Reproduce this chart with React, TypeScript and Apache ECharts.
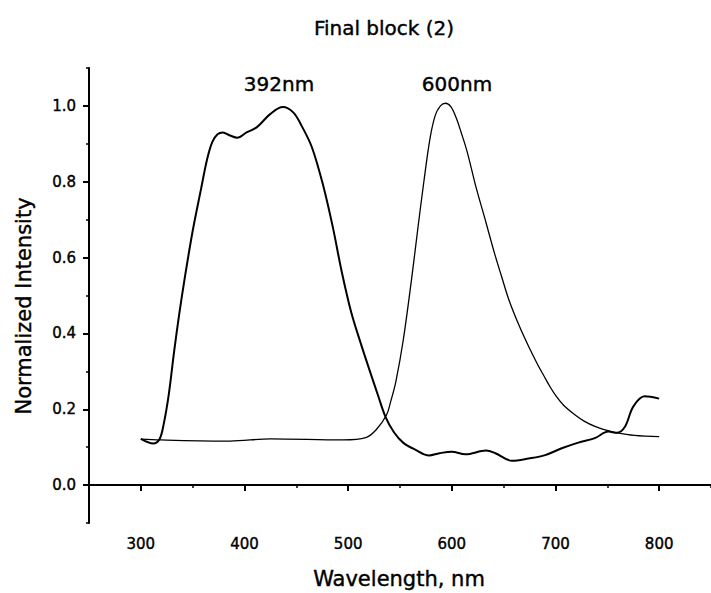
import React, { useEffect, useRef } from "react";
import * as echarts from "echarts";

const excitationX = [300, 312, 318, 322, 327, 332, 337, 342, 350, 358, 364, 369, 374, 379, 386, 393, 402, 412, 425, 437, 447, 455, 465, 476, 485, 494, 503, 512, 521, 529, 536, 544, 553, 565, 578, 588, 600, 613, 633, 642, 658, 674, 690, 706, 722, 738, 751, 759, 767, 775, 786, 800];
const excitationY = [0.122, 0.110, 0.121, 0.160, 0.240, 0.350, 0.450, 0.540, 0.670, 0.780, 0.860, 0.905, 0.925, 0.930, 0.922, 0.916, 0.930, 0.944, 0.979, 0.997, 0.983, 0.948, 0.891, 0.789, 0.683, 0.560, 0.455, 0.375, 0.300, 0.235, 0.180, 0.140, 0.112, 0.093, 0.078, 0.084, 0.088, 0.081, 0.091, 0.084, 0.064, 0.070, 0.079, 0.097, 0.112, 0.124, 0.141, 0.138, 0.154, 0.207, 0.234, 0.228];

const emissionX = [300, 319, 386, 425, 495, 517, 527, 537, 541, 546, 553, 561, 567, 573, 579, 584, 589, 594, 599, 604, 609, 615, 623, 633, 641, 648, 655, 665, 674, 682, 689, 695, 701, 708, 719, 728, 738, 750, 757, 776, 800];
const emissionY = [0.121, 0.119, 0.116, 0.122, 0.119, 0.125, 0.146, 0.185, 0.220, 0.273, 0.380, 0.540, 0.672, 0.800, 0.915, 0.975, 1.000, 1.007, 0.998, 0.970, 0.930, 0.877, 0.789, 0.692, 0.613, 0.550, 0.489, 0.420, 0.366, 0.322, 0.287, 0.258, 0.233, 0.210, 0.185, 0.168, 0.155, 0.144, 0.139, 0.131, 0.128];

const xMajorTicks = [300, 400, 500, 600, 700, 800];
const xMinorTicks = [250, 350, 450, 550, 650, 750, 850];
const yMajorTicks = [0, 0.2, 0.4, 0.6, 0.8, 1.0];
const yMinorTicks = [-0.1, 0.1, 0.3, 0.5, 0.7, 0.9, 1.1];

const titleText = "Final block (2)";
const xAxisTitle = "Wavelength, nm";
const yAxisTitle = "Normalized Intensity";
const peakLabels = ["392nm", "600nm"];

const FONT = "DejaVu Sans";

export default function App() {
  const ref = useRef<HTMLDivElement>(null);
  useEffect(() => {
    if (!ref.current) return;
    const chart = echarts.init(ref.current, undefined, { renderer: "svg" });
    const grid = { left: 89, top: 68, width: 625, height: 455 };
    const baseX = { type: "value", min: 250, max: 850, gridIndex: 0, splitLine: { show: false } };
    const baseY = { type: "value", min: -0.1, max: 1.1, gridIndex: 0, splitLine: { show: false } };
    const txt = (text: string, size: number) => ({
      text,
      fill: "#000",
      font: `${size}px "${FONT}"`,
      textAlign: "center",
      textVerticalAlign: "middle",
      stroke: "#000",
      lineWidth: 0.4,
    });
    chart.setOption({
      animation: false,
      backgroundColor: "#fff",
      grid,
      xAxis: [
        {
          ...baseX,
          position: "bottom",
          axisLine: { show: true, lineStyle: { color: "#000", width: 2 } },
          axisTick: { show: true, length: 6, customValues: xMajorTicks, lineStyle: { color: "#000", width: 2 } },
          axisLabel: {
            show: true,
            customValues: xMajorTicks,
            margin: 13,
            color: "#000",
            fontFamily: FONT,
            fontSize: 15,
            textBorderColor: "#000",
            textBorderWidth: 0.4,
          },
        },
        {
          ...baseX,
          position: "bottom",
          axisLine: { show: false },
          axisTick: { show: true, length: 3, customValues: xMinorTicks, lineStyle: { color: "#000", width: 1.5 } },
          axisLabel: { show: false },
        },
      ],
      yAxis: [
        {
          ...baseY,
          position: "left",
          axisLine: { show: true, lineStyle: { color: "#000", width: 2 } },
          axisTick: { show: true, length: 6, customValues: yMajorTicks, lineStyle: { color: "#000", width: 2 } },
          axisLabel: {
            show: true,
            customValues: yMajorTicks,
            margin: 13,
            color: "#000",
            fontFamily: FONT,
            fontSize: 15,
            textBorderColor: "#000",
            textBorderWidth: 0.4,
            formatter: (v: number) => v.toFixed(1),
          },
        },
        {
          ...baseY,
          position: "left",
          axisLine: { show: false },
          axisTick: { show: true, length: 3, customValues: yMinorTicks, lineStyle: { color: "#000", width: 1.5 } },
          axisLabel: { show: false },
        },
      ],
      series: [
        {
          type: "line",
          name: "excitation",
          xAxisIndex: 0,
          yAxisIndex: 0,
          data: excitationX.map((x, i) => [x, excitationY[i]]),
          showSymbol: false,
          smooth: 0.35,
          lineStyle: { color: "#000", width: 2 },
        },
        {
          type: "line",
          name: "emission",
          xAxisIndex: 0,
          yAxisIndex: 0,
          data: emissionX.map((x, i) => [x, emissionY[i]]),
          showSymbol: false,
          smooth: 0.35,
          lineStyle: { color: "#000", width: 1.3 },
        },
      ],
      graphic: [
        { type: "text", x: 384, y: 28, style: txt(titleText, 20) },
        { type: "text", x: 399, y: 579, style: txt(xAxisTitle, 21) },
        { type: "text", x: 24, y: 306, rotation: Math.PI / 2, style: txt(yAxisTitle, 21) },
        { type: "text", x: 279, y: 84, style: txt(peakLabels[0], 20) },
        { type: "text", x: 457, y: 84, style: txt(peakLabels[1], 20) },
      ],
    });
    return () => chart.dispose();
  }, []);
  return <div ref={ref} style={{ width: 711, height: 593, position: "absolute", left: 0, top: 0 }} />;
}
